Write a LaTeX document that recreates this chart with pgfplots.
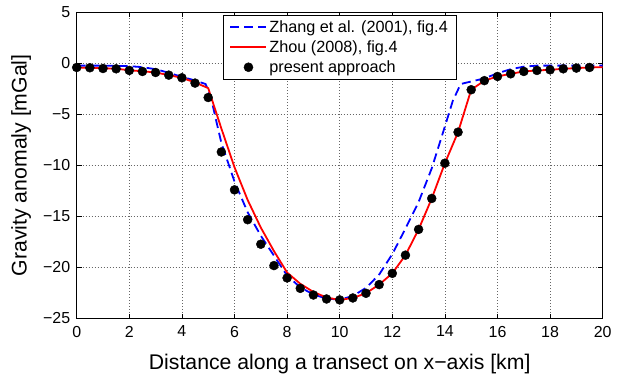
\documentclass[border=0pt]{standalone}
\usepackage{fontspec}
\setmainfont{Liberation Sans}
\usepackage{pgfplots}
\pgfplotsset{compat=1.18}
\pgfplotsset{
  longline/.style={legend image code/.code={\draw[##1] (0bp,0bp) -- (36bp,0bp);}},
  dotleg/.style={legend image code/.code={\draw[##1] plot coordinates {(18bp,0bp)};}},
}

\begin{document}
\begin{tikzpicture}
\useasboundingbox (-76.7bp,-60.5bp) rectangle (540.3bp,318.5bp);
\begin{axis}[
  at={(0,0)}, anchor=south west,
  scale only axis, width=526bp, height=306.5bp,
  xmin=0, xmax=20, ymin=-25, ymax=5,
  xtick={0,2,...,20}, ytick={-25,-20,...,5},
  yticklabels={−25,−20,−15,−10,−5,0,5},
  /pgf/number format/assume math mode=true,
  grid=major,
  grid style={dash pattern=on 0.8bp off 2.2bp, black!60, line width=0.5bp},
  tick align=inside, major tick length=5bp,
  tick style={black, line width=0.5bp},
  axis line style={line width=0.6bp},
  ticklabel style={font=\fontsize{16}{19}\selectfont},
  xticklabel style={yshift=-4bp},
  yticklabel style={xshift=-3bp},
  xlabel={Distance along a transect on x−axis [km]},
  ylabel={Gravity anomaly [mGal]},
  every axis x label/.style={at={(axis description cs:0.5,-0.168)}, anchor=base,
    font=\fontsize{21.3}{25}\selectfont},
  every axis y label/.style={at={(axis description cs:-0.095,0.5)}, rotate=90, anchor=base,
    font=\fontsize{21.3}{25}\selectfont},
  legend style={at={(axis description cs:0.5,1)}, anchor=north, yshift=-3bp,
    draw=black, line width=0.5bp, fill=white,
    font=\fontsize{16.3}{19}\selectfont,
    inner xsep=6bp, inner ysep=2bp,
    nodes={inner xsep=2bp, inner ysep=2bp, text height=13bp, text depth=3bp},
    row sep=0bp, column sep=0bp},
  legend cell align=left,
]
\addplot[blue, line width=1.8bp, dash pattern=on 9bp off 5bp, longline]
coordinates {
(0,-0.25) (1,-0.25) (2,-0.3) (2.5,-0.4) (3,-0.6) (3.5,-0.95) (4,-1.35) (4.5,-1.7) (4.9,-2.05)
(5.1,-3.3) (5.3,-5.6) (5.5,-7.8) (6,-11.6) (6.5,-14.6) (7,-16.9) (7.5,-18.85) (8,-20.8)
(8.5,-21.95) (9,-22.65) (9.5,-23.05) (10,-23.15) (10.5,-22.8) (11,-22.0) (11.5,-20.7)
(12,-18.7) (12.5,-16.2) (13,-13.6) (13.5,-10.3) (14,-6.2) (14.3,-3.7) (14.6,-2.05)
(15,-1.8) (15.5,-1.5) (16,-1.0) (16.5,-0.6) (17,-0.35) (17.5,-0.25) (20,-0.25)
};
\addlegendentry{Zhang et al. (2001), fig.4}
\addplot[red, line width=1.8bp, longline]
coordinates {
(0,-0.45) (0.5,-0.46) (1,-0.5) (1.5,-0.55) (2,-0.7) (2.5,-0.8) (3,-0.92) (3.5,-1.18)
(4,-1.44) (4.5,-1.9) (5,-2.45) (5.5,-6.4) (6,-10.2) (6.5,-13.4) (7,-16.1) (7.5,-18.4)
(8,-20.5) (8.5,-21.6) (9,-22.4) (9.5,-22.95) (10,-23.18) (10.5,-22.99) (11,-22.53)
(11.5,-21.68) (12,-20.58) (12.5,-18.80) (13,-16.28) (13.5,-13.25) (14,-9.80) (14.5,-6.76)
(15,-2.61) (15.5,-1.72) (16,-1.31) (16.5,-1.05) (17,-0.82) (17.5,-0.72) (18,-0.66)
(18.5,-0.56) (19,-0.49) (19.5,-0.43) (20,-0.40)
};
\addlegendentry{Zhou (2008), fig.4}
\addplot[only marks, mark=*, mark size=4.5bp, black, mark options={fill=black}, dotleg]
coordinates {
(0,-0.43) (0.5,-0.46) (1,-0.53) (1.5,-0.56) (2,-0.72) (2.5,-0.82) (3,-0.92) (3.5,-1.18)
(4,-1.44) (4.5,-1.96) (5,-3.37) (5.5,-8.70) (6,-12.41) (6.5,-15.33) (7,-17.73) (7.5,-19.82)
(8,-21.03) (8.5,-22.05) (9,-22.70) (9.5,-23.09) (10,-23.18) (10.5,-22.99) (11,-22.53)
(11.5,-21.68) (12,-20.58) (12.5,-18.80) (13,-16.28) (13.5,-13.25) (14,-9.80) (14.5,-6.76)
(15,-2.61) (15.5,-1.72) (16,-1.31) (16.5,-1.05) (17,-0.82) (17.5,-0.72) (18,-0.66)
(18.5,-0.56) (19,-0.49) (19.5,-0.43)
};
\addlegendentry{present approach}
\end{axis}
\end{tikzpicture}
\end{document}
